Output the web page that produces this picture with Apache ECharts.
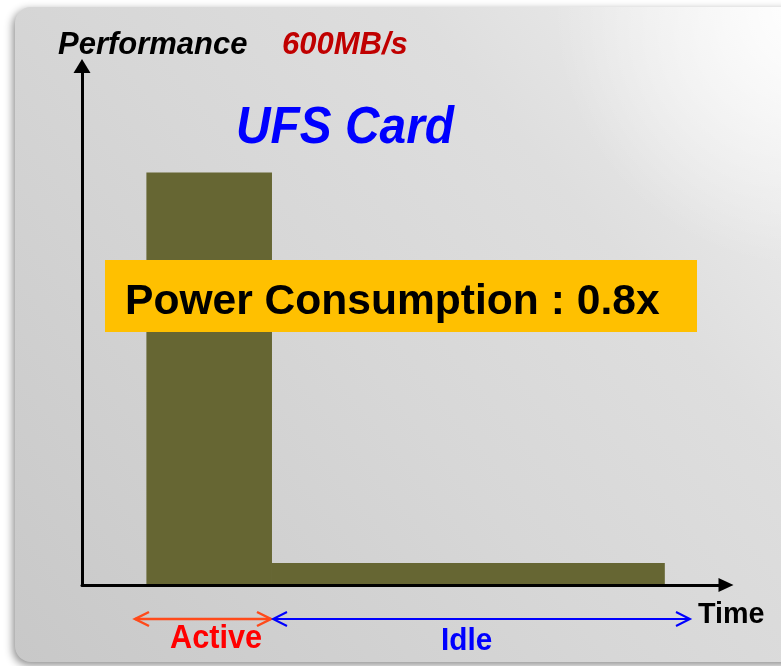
<!DOCTYPE html>
<html>
<head>
<meta charset="utf-8">
<script src="https://cdn.jsdelivr.net/npm/echarts@6/dist/echarts.min.js"></script>
<style>
  html, body { margin: 0; padding: 0; background: #fff; }
  #chart { width: 781px; height: 666px; }
</style>
</head>
<body>
<div id="chart"></div>
<script>
// phases of the card: time span and performance (MB/s)
var phases = ['Active', 'Idle'];
var startTimes = [10, 29.5];
var endTimes = [29.5, 90.5];
var performance = [600, 32];

var timeMax = 100;
var perfMax = 755;

var chart = echarts.init(document.getElementById('chart'));

var barData = [];
for (var i = 0; i < phases.length; i++) {
  barData.push([startTimes[i], endTimes[i], performance[i]]);
}

var FONT = '"Liberation Sans", Arial, sans-serif';

// text anchored at left / vertical middle, optionally squeezed
function label(text, x, y, font, color, sx, z) {
  return {
    type: 'text', x: x, y: y, scaleX: sx || 1, z: z || 5,
    style: { text: text, x: 0, y: 0, align: 'left', verticalAlign: 'middle', font: font + ' ' + FONT, fill: color }
  };
}

// open chevron double arrow
function chevronArrow(x1, x2, y, color, w) {
  return [
    { type: 'line', shape: { x1: x1, y1: y, x2: x2, y2: y }, style: { stroke: color, lineWidth: w } },
    { type: 'polyline', shape: { points: [[x1 + 14, y - 7], [x1, y], [x1 + 14, y + 7]] }, style: { stroke: color, lineWidth: w, fill: null } },
    { type: 'polyline', shape: { points: [[x2 - 14, y - 7], [x2, y], [x2 - 14, y + 7]] }, style: { stroke: color, lineWidth: w, fill: null } }
  ];
}

var graphics = [
  {
    type: 'rect', z: -10,
    shape: { x: 15, y: 7, width: 800, height: 655, r: 16 },
    style: {
      fill: new echarts.graphic.LinearGradient(0, 1, 1, 0, [
        { offset: 0, color: '#c8c8c8' },
        { offset: 0.45, color: '#d7d7d7' },
        { offset: 0.7, color: '#dedede' },
        { offset: 1, color: '#f2f2f2' }
      ]),
      shadowBlur: 8, shadowColor: 'rgba(0,0,0,0.45)', shadowOffsetX: -2, shadowOffsetY: 3
    }
  },
  {
    type: 'rect', z: -9,
    shape: { x: 15, y: 7, width: 800, height: 655, r: 16 },
    style: {
      fill: new echarts.graphic.RadialGradient(1, 0, 0.4, [
        { offset: 0, color: 'rgba(255,255,255,1)' },
        { offset: 1, color: 'rgba(255,255,255,0)' }
      ])
    }
  },
  label('Performance', 58, 45.5, 'italic bold 31px', '#000', 1),
  label('600MB/s', 282, 45.5, 'italic bold 31px', '#c00000', 1),
  label('UFS Card', 236, 129, 'italic bold 52px', '#0000ff', 0.92),
  { type: 'rect', z: 10, shape: { x: 105, y: 260, width: 592, height: 72 }, style: { fill: '#ffc000' } },
  label('Power Consumption : 0.8x', 125, 302, 'bold 43px', '#000', 0.99, 11),
  label('Time', 698, 614.5, 'bold 29px', '#000', 0.99),
  label('Active', 170, 638.5, 'bold 33px', '#ff0000', 0.93),
  label('Idle', 441, 641, 'bold 32px', '#0000ff', 0.93)
].concat(chevronArrow(135, 271, 619, '#ff4a1a', 2.5))
 .concat(chevronArrow(273, 690, 619, '#0000ff', 2));

var option = {
  animation: false,
  grid: { left: 82, right: 55, top: 66, bottom: 81 },
  xAxis: {
    type: 'value', min: 0, max: timeMax,
    axisLine: { show: true, symbol: ['none', 'triangle'], symbolSize: [14, 15], lineStyle: { color: '#000', width: 3 } },
    axisTick: { show: false }, axisLabel: { show: false }, splitLine: { show: false }
  },
  yAxis: {
    type: 'value', min: 0, max: perfMax,
    axisLine: { show: true, symbol: ['none', 'triangle'], symbolSize: [17, 14], lineStyle: { color: '#000', width: 3 } },
    axisTick: { show: false }, axisLabel: { show: false }, splitLine: { show: false }
  },
  graphic: graphics,
  series: [{
    type: 'custom',
    data: barData,
    renderItem: function (params, api) {
      var p0 = api.coord([api.value(0), api.value(2)]);
      var p1 = api.coord([api.value(1), 0]);
      return {
        type: 'rect',
        shape: { x: p0[0], y: p0[1], width: p1[0] - p0[0], height: p1[1] - p0[1] - 1 },
        style: { fill: '#666633' }
      };
    }
  }]
};

chart.setOption(option);
</script>
</body>
</html>
